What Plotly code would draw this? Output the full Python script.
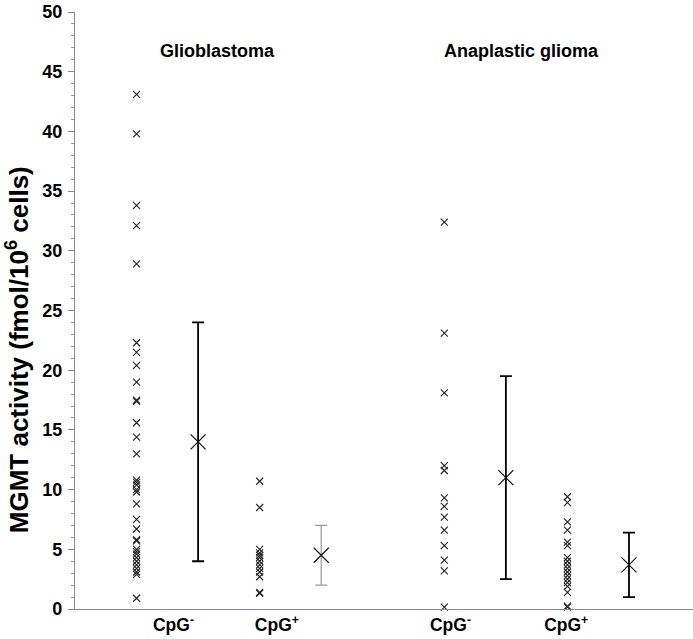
import plotly.graph_objects as go

# --- data ---
gbm_neg = [43.1, 39.8, 33.8, 32.1, 28.9, 22.3, 21.5, 20.4, 19.0, 17.5, 17.4, 15.6, 14.4, 13.0,
           10.8, 10.6, 10.4, 10.0, 9.8, 8.8, 7.5, 6.7, 5.8, 5.7, 5.0, 4.8, 4.6, 4.3, 4.0, 3.7,
           3.4, 3.1, 2.9, 0.9]
gbm_pos = [10.7, 8.5, 5.0, 4.7, 4.5, 4.3, 4.0, 3.7, 3.4, 3.1, 2.7, 1.4, 1.3]
ana_neg = [32.4, 23.1, 18.1, 12.0, 11.6, 9.3, 8.6, 7.7, 6.6, 5.3, 4.1, 3.2, 0.15]
ana_pos = [9.4, 8.9, 7.3, 6.6, 5.6, 5.3, 4.3, 4.0, 3.7, 3.4, 3.1, 2.8, 2.5, 2.2, 1.9, 1.4, 0.25, 0.15]

group_pos = [1, 3, 6, 8]          # column of individual points
mean_pos = [2, 4, 7, 9]           # column of mean +/- SD
means = [14.0, 4.5, 11.0, 3.7]
sds = [10.0, 2.5, 8.5, 2.7]
err_colors = ["#000000", "#9a9a9a", "#000000", "#000000"]

tick_pos = [1.6, 3.28, 6.1, 7.98]
tick_text = ["CpG<sup>-</sup>", "CpG<sup>+</sup>", "CpG<sup>-</sup>", "CpG<sup>+</sup>"]
group_titles = ["Glioblastoma", "Anaplastic glioma"]
title_pos = [2.32, 7.26]

FONT = "Liberation Sans, Arial, sans-serif"

fig = go.Figure()
for xs, vals in zip(group_pos, [gbm_neg, gbm_pos, ana_neg, ana_pos]):
    fig.add_trace(go.Scatter(
        x=[xs] * len(vals), y=vals, mode="markers",
        marker=dict(symbol="x-thin", size=7, line=dict(width=1.1, color="#222222")),
        cliponaxis=False, showlegend=False, hoverinfo="y"))

for xm, m, s, c in zip(mean_pos, means, sds, err_colors):
    fig.add_trace(go.Scatter(
        x=[xm], y=[m], mode="markers",
        marker=dict(symbol="x-thin", size=15, line=dict(width=1.2, color="#111111")),
        error_y=dict(type="data", array=[s], visible=True, color=c,
                     thickness=1.8 if c == "#000000" else 1.2, width=6),
        cliponaxis=False, showlegend=False))

for t, xp in zip(group_titles, title_pos):
    fig.add_annotation(x=xp, y=46.7, text="<b>%s</b>" % t, showarrow=False,
                       font=dict(family=FONT, size=18, color="#000"),
                       xanchor="center", yanchor="middle")

fig.add_annotation(xref="paper", yref="paper", x=-0.094, y=0.435,
                   text="<b>MGMT activity (fmol/10<sup>6</sup> cells)</b>",
                   textangle=-90, showarrow=False,
                   font=dict(family=FONT, size=26, color="#000"),
                   xanchor="center", yanchor="middle")

fig.update_layout(
    width=693, height=639,
    margin=dict(l=75, r=0, t=12, b=30),
    paper_bgcolor="white", plot_bgcolor="white",
    font=dict(family=FONT, color="#000"),
    xaxis=dict(range=[0, 10.04], showgrid=False, zeroline=False,
               showline=True, linecolor="#8a8a8a", linewidth=1.2,
               tickvals=tick_pos, ticktext=tick_text, ticks="",
               tickfont=dict(family=FONT, size=17.5, weight="bold", color="#000")),
    yaxis=dict(range=[0, 50], showgrid=False, zeroline=False,
               showline=True, linecolor="#8a8a8a", linewidth=1.2,
               tickmode="linear", tick0=0, dtick=5, ticks="outside",
               ticklen=6, tickcolor="#8a8a8a", ticklabelstandoff=2,
               ticklabeloverflow="allow",
               tickfont=dict(family=FONT, size=18, weight="bold", color="#000")),
)
fig.update_yaxes(minor=dict(dtick=1, ticks="outside", ticklen=3, tickcolor="#9a9a9a"))

fig.write_html("out.html", config={"displayModeBar": False},
               post_script="document.body.style.margin='0';")
